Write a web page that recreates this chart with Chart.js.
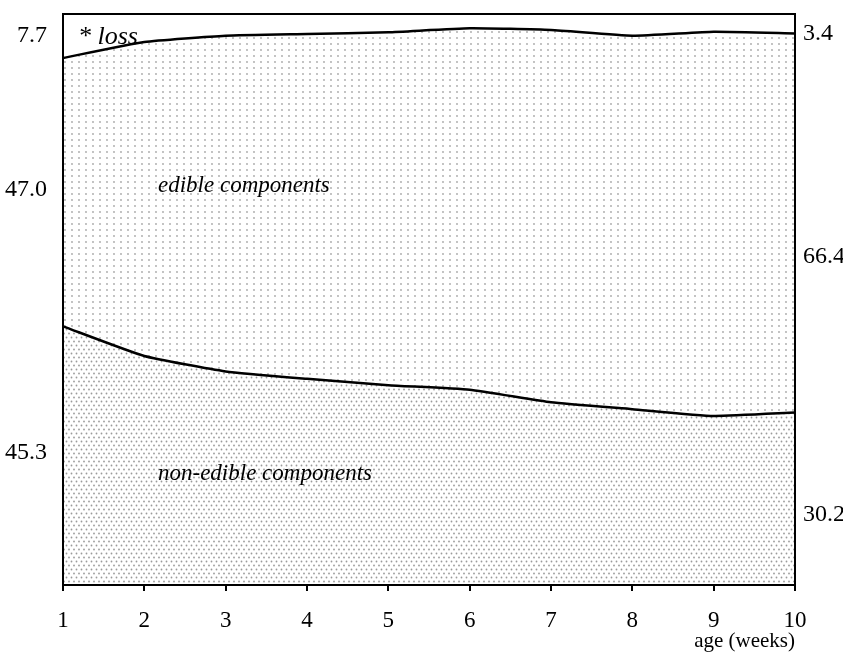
<!DOCTYPE html>
<html>
<head>
<meta charset="utf-8">
<script src="https://cdn.jsdelivr.net/npm/chart.js@4.4.1/dist/chart.umd.min.js"></script>
<style>
  html, body { margin: 0; padding: 0; background: #fff; }
  canvas { display: block; }
</style>
</head>
<body>
<canvas id="chart" width="843" height="654"></canvas>
<script>
// weeks of age
const weeks = ['1', '2', '3', '4', '5', '6', '7', '8', '9', '10'];
// share of carcass (%), stacked bottom to top
const nonEdible = [45.3, 40.1, 37.4, 36.1, 35.0, 34.2, 32.0, 30.8, 29.6, 30.2];
const edible = [47.0, 55.0, 58.8, 60.4, 61.8, 63.3, 65.2, 65.4, 67.3, 66.4];
const loss = [7.7, 4.9, 3.8, 3.5, 3.2, 2.5, 2.8, 3.8, 3.1, 3.4];
const bandNames = ['non-edible components', 'edible components', '* loss'];
const xTitle = 'age (weeks)';

const SERIF = "'Liberation Serif', 'Times New Roman', serif";
Chart.defaults.font.family = SERIF;
Chart.defaults.color = '#000';

function dotPattern(w, h, dots, color, r) {
  const c = document.createElement('canvas');
  c.width = w;
  c.height = h;
  const g = c.getContext('2d');
  g.fillStyle = color;
  dots.forEach(([x, y]) => {
    g.beginPath();
    g.arc(x, y, r, 0, Math.PI * 2);
    g.fill();
  });
  return g.createPattern(c, 'repeat');
}

const ctx = document.getElementById('chart').getContext('2d');
const densePattern = dotPattern(5, 8, [[1.5, 1.5], [4, 5.5]], '#9a9a9a', 0.9);
const lightPattern = dotPattern(7.5, 6, [[2, 2]], '#a8a8a8', 0.9);

// frame round the plot area
const framePlugin = {
  id: 'frame',
  afterDatasetsDraw(chart) {
    const a = chart.chartArea;
    const c = chart.ctx;
    c.save();
    c.strokeStyle = '#000';
    c.lineWidth = 2;
    c.strokeRect(a.left, a.top, a.right - a.left, a.bottom - a.top);
    c.restore();
  }
};

// end values on both sides and band names inside the plot
const labelPlugin = {
  id: 'bandLabels',
  afterDraw(chart) {
    const a = chart.chartArea;
    const y = chart.scales.y;
    const c = chart.ctx;
    const bands = [nonEdible, edible, loss];
    c.save();
    c.fillStyle = '#000';
    c.textBaseline = 'middle';
    c.font = '24px ' + SERIF;

    const sides = [
      { idx: 0, frac: 0.51, x: a.left - 16, align: 'right' },
      { idx: weeks.length - 1, frac: 0.41, x: a.right + 8, align: 'left' }
    ];
    sides.forEach(s => {
      let base = 0;
      c.textAlign = s.align;
      bands.forEach(band => {
        const v = band[s.idx];
        let py = y.getPixelForValue(base + v * s.frac);
        py = Math.max(py, a.top + 20);
        c.fillText(v.toFixed(1), s.x, py);
        base += v;
      });
    });

    c.textAlign = 'left';
    const h = a.bottom - a.top;
    c.font = 'italic 23px ' + SERIF;
    c.fillText(bandNames[0], a.left + 95, a.top + 0.806 * h);
    c.fillText(bandNames[1], a.left + 95, a.top + 0.302 * h);
    c.font = 'italic 26px ' + SERIF;
    c.fillText(bandNames[2], a.left + 15, a.top + 23);
    c.restore();
  }
};

new Chart(ctx, {
  type: 'line',
  data: {
    labels: weeks,
    datasets: [
      {
        label: bandNames[0],
        data: nonEdible,
        fill: 'origin',
        backgroundColor: densePattern,
        borderColor: '#000',
        borderWidth: 2.5,
        pointRadius: 0,
        tension: 0.15
      },
      {
        label: bandNames[1],
        data: edible,
        fill: '-1',
        backgroundColor: lightPattern,
        borderColor: '#000',
        borderWidth: 2.5,
        pointRadius: 0,
        tension: 0.15
      },
      {
        label: bandNames[2],
        data: loss,
        fill: '-1',
        backgroundColor: '#fff',
        borderWidth: 0,
        pointRadius: 0
      }
    ]
  },
  options: {
    responsive: false,
    animation: false,
    devicePixelRatio: 1,
    layout: { padding: { left: 63, right: 48, top: 14, bottom: 0 } },
    plugins: {
      legend: { display: false },
      tooltip: { enabled: false }
    },
    scales: {
      x: {
        offset: false,
        grid: { drawOnChartArea: false, drawTicks: true, tickLength: 6, color: '#000', lineWidth: 2 },
        border: { display: false },
        ticks: { color: '#000', font: { size: 23 }, padding: 16, maxRotation: 0, autoSkip: false },
        title: {
          display: true,
          text: xTitle,
          align: 'end',
          color: '#000',
          font: { size: 21 },
          padding: { top: 0, bottom: 0 }
        },
        afterFit(scale) { scale.height = 69; }
      },
      y: {
        stacked: true,
        min: 0,
        max: 100,
        display: false
      }
    }
  },
  plugins: [framePlugin, labelPlugin]
});
</script>
</body>
</html>
